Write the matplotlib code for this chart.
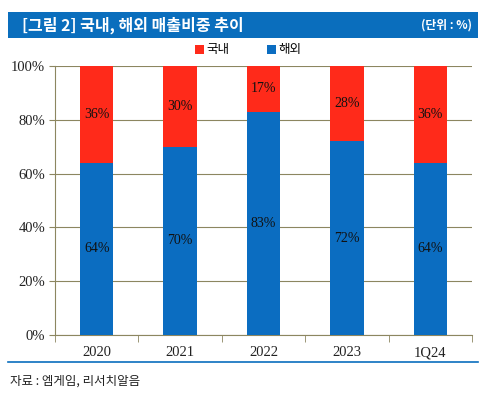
import matplotlib
matplotlib.use("Agg")
import matplotlib.pyplot as plt
import matplotlib.patches as patches
from matplotlib.ticker import FixedLocator, FuncFormatter

plt.rcParams['font.family'] = ['Noto Sans CJK KR', 'DejaVu Sans']

categories = ['2020', '2021', '2022', '2023', '1Q24']
overseas = [64, 70, 83, 72, 64]
domestic = [36, 30, 17, 28, 36]

red = '#FF2A1A'
blue = '#0B6DC1'
grid_color = '#8C8660'

fig = plt.figure(figsize=(4.86, 3.98), dpi=100)

# title bar
fig.patches.append(patches.Rectangle((8 / 486, 1 - 38 / 398), 470 / 486, 26 / 398,
                                     transform=fig.transFigure, facecolor='#0A6EBD',
                                     edgecolor='none'))
fig.text(22 / 486, 1 - 25 / 398, '[그림 2] 국내, 해외 매출비중 추이', color='white',
         fontsize=11.5, fontweight='bold', va='center', ha='left')
fig.text(472 / 486, 1 - 25 / 398, '(단위 : %)', color='white',
         fontsize=8.5, fontweight='bold', va='center', ha='right')

ax = fig.add_axes([55 / 486, 63 / 398, 417 / 486, 269 / 398])
x = range(len(categories))
ax.bar(x, overseas, width=0.4, color=blue, label='해외', zorder=3)
ax.bar(x, domestic, width=0.4, bottom=overseas, color=red, label='국내', zorder=3)

for i in x:
    ax.text(i, overseas[i] / 2, f'{overseas[i]}%', ha='center', va='center',
            fontsize=10, family='Liberation Serif', color='#111111', zorder=4)
    ax.text(i, overseas[i] + domestic[i] / 2, f'{domestic[i]}%', ha='center', va='center',
            fontsize=10, family='Liberation Serif', color='#111111', zorder=4)

ax.set_xlim(-0.5, len(categories) - 0.5)
ax.set_ylim(0, 100)
ax.set_yticks(range(0, 101, 20))
ax.yaxis.set_major_formatter(FuncFormatter(lambda v, p: f'{int(v)}%'))
ax.grid(axis='y', color=grid_color, linewidth=0.8, zorder=0)
ax.set_xticks(list(x))
ax.set_xticklabels(categories)
ax.xaxis.set_minor_locator(FixedLocator([i - 0.5 for i in range(len(categories) + 1)]))
ax.tick_params(axis='x', which='major', length=0, pad=8)
ax.tick_params(axis='x', which='minor', length=5, color=grid_color, direction='out')
ax.tick_params(axis='y', length=4, color=grid_color, direction='out', pad=3)
for lab in ax.get_xticklabels() + ax.get_yticklabels():
    lab.set_family('Liberation Serif')
    lab.set_fontsize(10.5)
    lab.set_color('#222222')
for s in ['top', 'right']:
    ax.spines[s].set_visible(False)
ax.spines['left'].set_color(grid_color)
ax.spines['bottom'].set_color(grid_color)

handles, labels = ax.get_legend_handles_labels()
fig.legend(handles[::-1], labels[::-1], loc='center', bbox_to_anchor=(248 / 486, 1 - 50 / 398),
           ncol=2, frameon=False, fontsize=9, handlelength=0.7, handleheight=0.7,
           handletextpad=0.2, columnspacing=3.0)

# bottom rule and source
fig.add_artist(plt.Line2D([8 / 486, 478 / 486], [1 - 362 / 398, 1 - 362 / 398],
                          transform=fig.transFigure, color='#0A6EBD', linewidth=1.2))
fig.text(10 / 486, 1 - 381 / 398, '자료 : 엠게임, 리서치알음', fontsize=9,
         color='#222222', va='center', ha='left')

fig.savefig('out.png', dpi=100)
